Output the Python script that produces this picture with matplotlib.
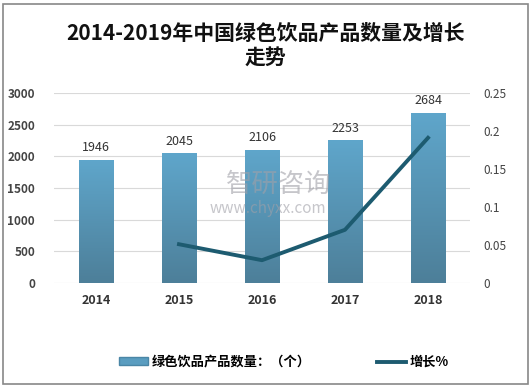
import numpy as np
import matplotlib.pyplot as plt
from matplotlib.patches import Rectangle
from matplotlib.lines import Line2D
from matplotlib.patches import Patch
from matplotlib.colors import LinearSegmentedColormap

plt.rcParams['font.family'] = ['Noto Sans CJK SC', 'DejaVu Sans']

# data
years = ['2014', '2015', '2016', '2017', '2018']
counts = [1946, 2045, 2106, 2253, 2684]
growth_years = ['2015', '2016', '2017', '2018']
growth = [0.051, 0.030, 0.070, 0.191]

bar_color = '#5a9dc0'
line_color = '#1d5b70'

fig = plt.figure(figsize=(5.31, 3.89), dpi=100)
ax = fig.add_axes([0.1026, 0.2725, 0.7816, 0.4885])

x = np.arange(len(years))
bars = ax.bar(x, counts, width=0.41, color=bar_color, edgecolor='#4a86a6', linewidth=0.6, zorder=2)

# vertical gradient on the bars (lighter top, darker bottom)
grad = np.linspace(1, 0, 256).reshape(-1, 1)
cmap = LinearSegmentedColormap.from_list('barg', ['#4d7f99', '#5fa6cb'])
for b in bars:
    bx, by = b.get_x(), b.get_y()
    w, h = b.get_width(), b.get_height()
    im = ax.imshow(grad, extent=[bx, bx + w, by, by + h], aspect='auto', cmap=cmap, zorder=2.1)
    im.set_clip_path(b)

for xi, v in zip(x, counts):
    ax.text(xi, v + 90, str(v), ha='center', va='bottom', fontsize=9, color='#333333')

ax.set_xlim(-0.5, len(years) - 0.5)
ax.set_ylim(0, 3000)
ax.set_yticks(range(0, 3001, 500))
ax.set_xticks(x)
ax.set_xticklabels(years, fontsize=9, fontweight='bold', color='#333333')
ax.tick_params(axis='y', labelsize=8.5, colors='#444444', length=0, pad=14)
ax.tick_params(axis='x', length=0, pad=8)
for lab in ax.get_yticklabels():
    lab.set_fontweight('bold')
ax.grid(axis='y', color='#d9d9d9', linewidth=0.8, zorder=0)
for s in ax.spines.values():
    s.set_visible(False)

ax2 = ax.twinx()
gx = [years.index(y) for y in growth_years]
ax2.plot(gx, growth, color=line_color, linewidth=2.8, zorder=3)
ax2.set_ylim(0, 0.25)
ax2.set_yticks([0, 0.05, 0.1, 0.15, 0.2, 0.25])
ax2.set_yticklabels(['0', '0.05', '0.1', '0.15', '0.2', '0.25'])
ax2.tick_params(axis='y', labelsize=8.5, colors='#444444', length=0, pad=10)
for s in ax2.spines.values():
    s.set_visible(False)

# watermark
fig.text(0.525, 0.525, '智研咨询', fontsize=19, color='#a0a0a8', alpha=0.6, ha='center', va='center')
fig.text(0.505, 0.465, 'www.chyxx.com', fontsize=11, color='#a0a0a8', alpha=0.6, ha='center', va='center')

fig.text(0.5, 0.915, '2014-2019年中国绿色饮品产品数量及增长', fontsize=15, fontweight='semibold',
         ha='center', va='center', color='#111111')
fig.text(0.5, 0.853, '走势', fontsize=15, fontweight='semibold', ha='center', va='center', color='#111111')

handles = [Patch(facecolor=bar_color, edgecolor='#4a86a6'),
           Line2D([0], [0], color=line_color, linewidth=2.8)]
fig.legend(handles, ['绿色饮品产品数量：（个）', '增长%'], loc='center', bbox_to_anchor=(0.535, 0.07),
           ncol=2, frameon=False, columnspacing=5, handlelength=2.2, handleheight=0.5,
           handletextpad=0.3, prop={'weight': 'bold', 'size': 9.5})

fig.patches.append(Rectangle((0.006, 0.012), 0.988, 0.978, transform=fig.transFigure,
                             fill=False, edgecolor='#888888', linewidth=1.2))

fig.savefig('out.png', dpi=100)
